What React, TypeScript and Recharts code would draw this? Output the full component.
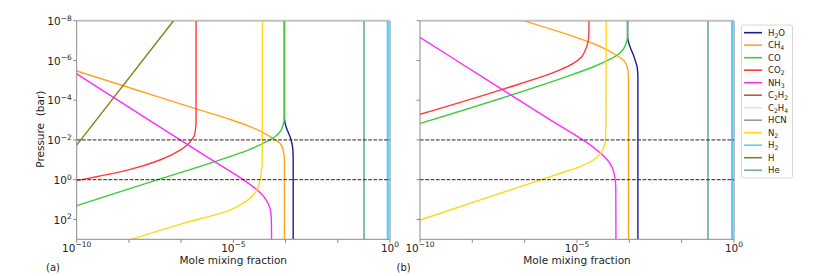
import React from 'react';
import { LineChart, Line, XAxis, YAxis, ReferenceLine } from 'recharts';

// Each point: [log10 pressure (bar), log10 mole mixing fraction]
type Pt = [number, number];

// ---------- Panel (a) ----------
const H2O_A: Pt[] = [[-8, -3.37], [-3.17, -3.37], [-2.84, -3.35], [-2.5, -3.28], [-2.16, -3.19], [-1.83, -3.13], [-1.49, -3.1], [-0.99, -3.09], [3, -3.09]];
const CH4_A: Pt[] = [[-5.47, -10], [-4.5, -8.06], [-3.5, -6.06], [-3.04, -5.12], [-2.67, -4.47], [-2.36, -4.04], [-2.08, -3.73], [-1.83, -3.51], [-1.49, -3.41], [-0.99, -3.37], [3, -3.37]];
const CO_A: Pt[] = [[-8, -3.37], [-3.17, -3.37], [-2.75, -3.41], [-2.41, -3.51], [-2.16, -3.67], [-1.91, -3.94], [-1.53, -4.47], [-1.16, -5.11], [0, -7.41], [1.31, -10]];
const CO2_A: Pt[] = [[-8, -6.19], [-2.9, -6.19], [-2.5, -6.21], [-2.2, -6.25], [-2.0, -6.33], [-1.75, -6.47], [-1.49, -6.7], [-0.99, -7.34], [-0.49, -8.35], [0.05, -10]];
const NH3_A: Pt[] = [[-5.32, -10], [-3.0, -7.69], [-1.0, -5.69], [0.1, -4.59], [0.4, -4.33], [0.7, -4.12], [1.0, -3.96], [1.3, -3.86], [1.69, -3.8], [2.2, -3.785], [3, -3.78]];
const N2_A: Pt[] = [[-8, -4.07], [-0.8, -4.08], [-0.49, -4.1], [0.02, -4.15], [0.52, -4.25], [0.94, -4.47], [1.28, -4.79], [1.53, -5.11], [2.2, -6.6], [3, -8.25]];
const H2_A: Pt[] = [[-8, -0.07], [3, -0.07]];
const H_A: Pt[] = [[-8, -6.91], [-1.74, -10]];
const HE_A: Pt[] = [[-8, -0.83], [3, -0.83]];

// ---------- Panel (b) ----------
const H2O_B: Pt[] = [[-8, -3.39], [-7.31, -3.39], [-6.98, -3.37], [-6.64, -3.3], [-6.3, -3.21], [-5.97, -3.14], [-5.63, -3.08], [-5.13, -3.06], [3, -3.06]];
const CH4_B: Pt[] = [[-8, -6.71], [-7.21, -5.13], [-6.84, -4.47], [-6.53, -4.04], [-6.25, -3.73], [-6.0, -3.51], [-5.66, -3.4], [-5.16, -3.36], [3, -3.36]];
const CO_B: Pt[] = [[-8, -3.39], [-7.31, -3.39], [-6.89, -3.43], [-6.55, -3.53], [-6.3, -3.69], [-6.05, -3.96], [-5.67, -4.49], [-5.3, -5.13], [-2.83, -10]];
const CO2_B: Pt[] = [[-8, -4.62], [-7.4, -4.62], [-6.86, -4.66], [-6.5, -4.74], [-6.19, -4.85], [-5.85, -5.12], [-5.52, -5.54], [-4.51, -7.45], [-3.29, -10]];
const NH3_B: Pt[] = [[-7.16, -10], [-5.0, -7.84], [-3.0, -5.84], [-1.74, -4.57], [-1.44, -4.33], [-1.14, -4.12], [-0.84, -3.96], [-0.54, -3.86], [-0.15, -3.8], [0.36, -3.765], [3, -3.76]];
const N2_B: Pt[] = [[-8, -4.07], [-2.6, -4.08], [-2.2, -4.09], [-1.83, -4.11], [-1.41, -4.21], [-0.99, -4.48], [-0.66, -4.9], [-0.31, -5.55], [2.03, -10]];
const H2_B: Pt[] = [[-8, -0.06], [3, -0.06]];
const HE_B: Pt[] = [[-8, -0.83], [3, -0.83]];

const SPECIES = ['H2O', 'CH4', 'CO', 'CO2', 'NH3', 'C2H2', 'C2H4', 'HCN', 'N2', 'H2', 'H', 'He'];
const COLORS: Record<string, string> = {
  H2O: '#1c1c8a', CH4: '#ffa51f', CO: '#3ec93e', CO2: '#ff3a3a', NH3: '#ff2cff',
  C2H2: '#b45c5c', C2H4: '#ffd3da', HCN: '#999999', N2: '#ffd81a', H2: '#58cdfb',
  H: '#838318', He: '#74b590',
};
const WIDTHS: Record<string, number> = { H2: 2.2, He: 1.7 };

const PANEL_A: Record<string, Pt[]> = { H2O: H2O_A, CH4: CH4_A, CO: CO_A, CO2: CO2_A, NH3: NH3_A, N2: N2_A, H2: H2_A, H: H_A, He: HE_A };
const PANEL_B: Record<string, Pt[]> = { H2O: H2O_B, CH4: CH4_B, CO: CO_B, CO2: CO2_B, NH3: NH3_B, N2: N2_B, H2: H2_B, He: HE_B };

const X_TICKS_LOG = [-10, -8.3333, -6.6667, -5, -3.3333, -1.6667, 0];
const Y_TICKS_LOG = [-8, -6, -4, -2, 0, 2];
const X_DOMAIN_LOG: [number, number] = [-10, 0];
const Y_DOMAIN_LOG: [number, number] = [-8, 3];
const DASHED_P_LOG = [-2, 0];

const FONT = 'DejaVu Sans, sans-serif';
const TXT = '#1e1e1e';

const toData = (pts: Pt[]) => pts.map(([lp, lx]) => ({ x: Math.pow(10, lx), p: Math.pow(10, lp) }));

const expText = (v: number) => {
  const e = Math.round(Math.log10(v));
  return e < 0 ? '\u2212' + String(-e) : String(e);
};
const isMajor = (v: number) => {
  const e = Math.log10(v);
  return Math.abs(e - Math.round(e)) < 0.01;
};

const XTick = (props: any) => {
  const { x, y, payload } = props;
  const v = payload.value;
  if (!isMajor(v) || Math.round(Math.log10(v)) % 5 !== 0) return <g />;
  return (
    <text x={x} y={y + 6.9} textAnchor="middle" fontFamily={FONT} fontSize={10.5} fill={TXT}>
      10<tspan dy={-4.3} fontSize={7.5}>{expText(v)}</tspan>
    </text>
  );
};

const YTick = (props: any) => {
  const { x, y, payload } = props;
  return (
    <text x={x + 0.5} y={y + 4.3} textAnchor="end" fontFamily={FONT} fontSize={10.5} fill={TXT}>
      10<tspan dy={-4.3} fontSize={7.5}>{expText(payload.value)}</tspan>
    </text>
  );
};
const NoTick = () => <g />;

const Panel = ({ series, showY, yAxisWidth, width }: { series: Record<string, Pt[]>; showY: boolean; yAxisWidth: number; width: number }) => (
  <LineChart width={width} height={276} margin={{ top: 20.7, right: 10, left: 0, bottom: 0 }}>
    <XAxis
      type="number"
      dataKey="x"
      scale="log"
      domain={[Math.pow(10, X_DOMAIN_LOG[0]), Math.pow(10, X_DOMAIN_LOG[1])]}
      allowDataOverflow
      ticks={X_TICKS_LOG.map((v) => Math.pow(10, v))}
      interval={0}
      tickSize={3.5}
      tickMargin={2}
      height={36.7}
      stroke="#8a8a8a"
      tick={(p: any) => <XTick {...p} />}
    />
    <YAxis
      type="number"
      scale="log"
      domain={[Math.pow(10, Y_DOMAIN_LOG[0]), Math.pow(10, Y_DOMAIN_LOG[1])]}
      allowDataOverflow
      reversed
      ticks={Y_TICKS_LOG.map((v) => Math.pow(10, v))}
      interval={0}
      tickSize={3.5}
      tickMargin={2}
      width={yAxisWidth}
      stroke="#8a8a8a"
      tick={showY ? (p: any) => <YTick {...p} /> : NoTick}
    />
    <ReferenceLine y={Math.pow(10, Y_DOMAIN_LOG[0])} stroke="#c2c2c2" strokeWidth={2} ifOverflow="visible" />
    <ReferenceLine x={Math.pow(10, X_DOMAIN_LOG[1])} stroke="#c2c2c2" strokeWidth={2} ifOverflow="visible" />
    {SPECIES.filter((s) => series[s]).map((s) => (
      <Line
        key={s}
        data={toData(series[s])}
        dataKey="p"
        type="monotoneY"
        stroke={COLORS[s]}
        strokeWidth={WIDTHS[s] ?? 1.4}
        dot={false}
        activeDot={false}
        isAnimationActive={false}
      />
    ))}
    {DASHED_P_LOG.map((lp) => (
      <ReferenceLine key={lp} y={Math.pow(10, lp)} stroke="#222" strokeWidth={1} strokeDasharray="3.7 1.6" />
    ))}
  </LineChart>
);

const Formula = ({ s, x, y, size }: { s: string; x: number; y: number; size: number }) => {
  const parts = s.match(/[A-Za-z]+|\d+/g) || [];
  let shifted = false;
  return (
    <text x={x} y={y} fontFamily={FONT} fontSize={size} fill={TXT}>
      {parts.map((p, i) => {
        const isNum = /\d/.test(p);
        let dy = 0;
        if (isNum && !shifted) { dy = 2; shifted = true; }
        else if (!isNum && shifted) { dy = -2; shifted = false; }
        return (
          <tspan key={i} dy={dy} fontSize={isNum ? size * 0.72 : size}>{p}</tspan>
        );
      })}
    </text>
  );
};

const Overlay = () => (
  <svg width={830} height={276} style={{ position: 'absolute', left: 0, top: 0, pointerEvents: 'none' }}>
    <text transform="translate(40,129.2) rotate(-90)" textAnchor="middle" dominantBaseline="central" fontFamily={FONT} fontSize={10.5} fill={TXT} style={{ whiteSpace: 'pre' }}>
      {'Pressure  (bar)'}
    </text>
    <text x={233.3} y={264} textAnchor="middle" fontFamily={FONT} fontSize={10.5} fill={TXT}>Mole mixing fraction</text>
    <text x={577} y={264} textAnchor="middle" fontFamily={FONT} fontSize={10.5} fill={TXT}>Mole mixing fraction</text>
    <text x={46} y={270.5} fontFamily={FONT} fontSize={10} fill={TXT}>(a)</text>
    <text x={396.5} y={270.5} fontFamily={FONT} fontSize={10} fill={TXT}>(b)</text>
    <rect x={741.5} y={25} width={51} height={153} rx={2} fill="#fff" stroke="#d9d9d9" strokeWidth={1} />
    {SPECIES.map((s, i) => {
      const cy = 32.7 + 12.5 * i;
      return (
        <g key={s}>
          <line x1={744} x2={762} y1={cy} y2={cy} stroke={COLORS[s]} strokeWidth={1.6} />
          <Formula s={s} x={768} y={cy + 3} size={8.5} />
        </g>
      );
    })}
  </svg>
);

export default function App() {
  return (
    <div style={{ position: 'absolute', left: 0, top: 0, width: 830, height: 276, background: '#fff', overflow: 'hidden' }}>
      <div style={{ position: 'absolute', left: 0, top: 0 }}>
        <Panel series={PANEL_A} showY={true} yAxisWidth={76.7} width={400} />
      </div>
      <div style={{ position: 'absolute', left: 400, top: 0 }}>
        <Panel series={PANEL_B} showY={false} yAxisWidth={20} width={344} />
      </div>
      <Overlay />
    </div>
  );
}
